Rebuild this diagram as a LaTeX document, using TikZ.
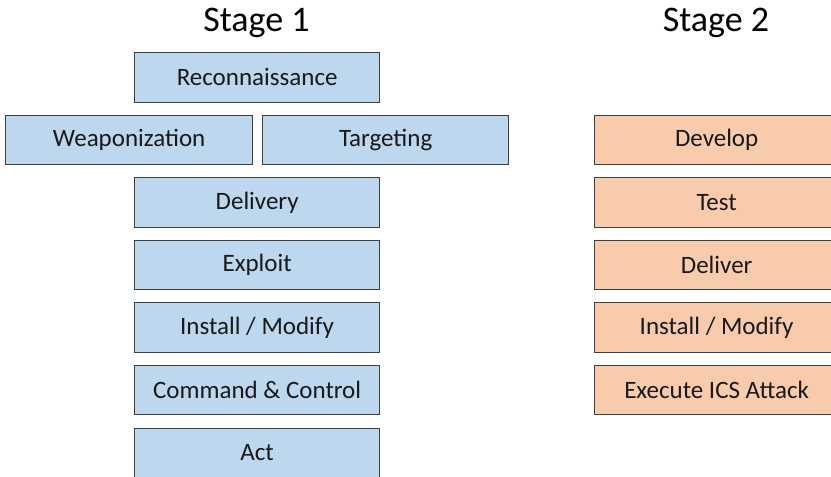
\documentclass[tikz,border=0pt]{standalone}
\usepackage{fontspec}
\setmainfont{Carlito}
\definecolor{stageblue}{HTML}{BDD7EE}
\definecolor{stageorange}{HTML}{F8CBAD}
\definecolor{boxline}{HTML}{404040}
\tikzset{
  phase/.style={draw=boxline, line width=1.3pt, anchor=north west, inner sep=0pt,
    minimum height=49.5pt, font=\fontsize{25}{29}\selectfont, text=black!90},
  bluebox/.style={phase, fill=stageblue},
  orangebox/.style={phase, fill=stageorange, minimum width=245pt},
  title/.style={font=\fontsize{36}{42}\selectfont, text=black, anchor=base}
}
\begin{document}
\begin{tikzpicture}[x=1pt, y=-1pt]
  \useasboundingbox (0,0) rectangle (831,477);
  \clip (0,0) rectangle (831,477);

  % column headings
  \node[title] (s1) at (256.5,31) {Stage 1};
  \node[title] (s2) at (716,31) {Stage 2};

  % Stage 1 steps
  \node[bluebox, minimum width=245pt] (recon) at (134,52) {Reconnaissance};
  \node[bluebox, minimum width=247pt] (weap) at (5,114.5) {Weaponization};
  \node[bluebox, minimum width=246pt] (targ) at (262,114.5) {Targeting};
  \node[bluebox, minimum width=245pt] (deliv) at (134,177) {Delivery};
  \node[bluebox, minimum width=245pt] (expl) at (134,239.5) {Exploit};
  \node[bluebox, minimum width=245pt] (inst1) at (134,302) {Install / Modify};
  \node[bluebox, minimum width=245pt] (cc) at (134,364.5) {Command \& Control};
  \node[bluebox, minimum width=245pt] (act) at (134,427.5) {Act};

  % Stage 2 steps
  \node[orangebox] (dev) at (593.5,114.5) {Develop};
  \node[orangebox] (test) at (593.5,177) {Test};
  \node[orangebox] (deliver) at (593.5,239.5) {Deliver};
  \node[orangebox] (inst2) at (593.5,302) {Install / Modify};
  \node[orangebox] (exec) at (593.5,364.5) {Execute ICS Attack};
\end{tikzpicture}
\end{document}
